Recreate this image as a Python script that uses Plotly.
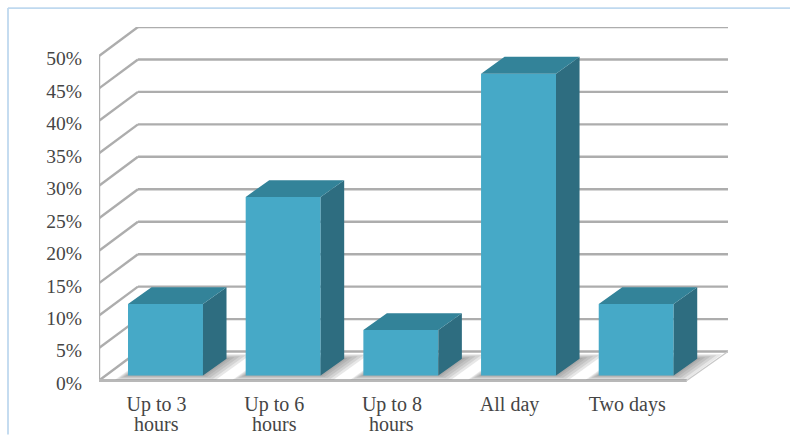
import plotly.graph_objects as go

# Chart content
categories = ["Up to 3", "Up to 6", "Up to 8", "All day", "Two days"]
second_lines = ["hours", "hours", "hours", "", ""]
values = [11, 27.5, 7, 46.5, 11]
y_ticks = [0, 5, 10, 15, 20, 25, 30, 35, 40, 45, 50]
y_tick_labels = ["0%", "5%", "10%", "15%", "20%", "25%", "30%", "35%", "40%", "45%", "50%"]
positions = [0, 1, 2, 3, 4]

# Box geometry, in axis units
BAR_WIDTH = 0.637
BAR_BASE = 0.77
BAR_DEPTH_X = 0.2
BAR_DEPTH_Y = 2.6
WALL_X = 0.331
WALL_Y = 4.46
X_LEFT = -0.565
X_RIGHT = 4.43
X_END = 4.78
Y_BOTTOM = -1
Y_TOP = 54.46

# Labels sit on the front edge of the floor, a little ahead of the boxes
LABEL_SHIFT_X = -0.076
LABEL_SHIFT_Y = -0.4

FRONT = "#46A9C7"
SIDE = "#2E6D80"
TOP = "#338399"
GRID = "#ADADAD"
TEXT = "#454545"
FONT = "Liberation Serif"


def grid_line(x0, y0, x1, y1, width=2.4, color=GRID):
    return dict(type="line", xref="x", yref="y", x0=x0, y0=y0, x1=x1, y1=y1,
                layer="below", line=dict(color=color, width=width))


def polygon_path(points):
    return "M " + " L ".join(f"{x},{y}" for x, y in points) + " Z"


shapes = []

# Back wall and left wall lines
for t in y_ticks:
    shapes.append(grid_line(X_LEFT, t, X_LEFT + WALL_X, t + WALL_Y))
    shapes.append(grid_line(X_LEFT + WALL_X, t + WALL_Y, X_END, t + WALL_Y))
shapes.append(grid_line(X_LEFT, 0, X_LEFT, y_ticks[-1]))

# Floor edges
shapes.append(grid_line(X_LEFT, 0, X_RIGHT, 0, width=3, color="#B8B8B8"))
shapes.append(grid_line(X_RIGHT, 0, X_END, WALL_Y, width=1.2, color="#C8C8C8"))

# Soft shadow around each bar foot
for x in positions:
    for spread in (0.11, 0.085, 0.06, 0.035, 0.015):
        left = x - BAR_WIDTH / 2 - spread
        right = x + BAR_WIDTH / 2 + spread
        low = max(BAR_BASE - spread * 6, 0.12)
        high = BAR_BASE + BAR_DEPTH_Y + spread * 6
        shift = (high - low) * BAR_DEPTH_X / BAR_DEPTH_Y
        shapes.append(dict(
            type="path", xref="x", yref="y", layer="below", opacity=0.17,
            fillcolor="#6E6E6E", line=dict(width=0),
            path=polygon_path([(left, low), (right, low), (right + shift, high), (left + shift, high)]),
        ))

# Window border
MARGIN_L, MARGIN_R, MARGIN_T, MARGIN_B = 99, 62, 27, 47.5
PLOT_W = 790 - MARGIN_L - MARGIN_R
PLOT_H = 435 - MARGIN_T - MARGIN_B
border_x = (8 - MARGIN_L) / PLOT_W
border_y = 1 + (MARGIN_T - 8) / PLOT_H
for x0, y0, x1, y1 in [(border_x, border_y, (790 - MARGIN_L) / PLOT_W, border_y),
                       (border_x, border_y, border_x, -MARGIN_B / PLOT_H)]:
    shapes.append(dict(type="line", xref="paper", yref="paper", x0=x0, y0=y0, x1=x1, y1=y1,
                       layer="below", line=dict(color="#BFD9EF", width=1.8)))

# Side and top faces of the boxes
side_x, side_y, top_x, top_y = [], [], [], []
for x, v in zip(positions, values):
    right = x + BAR_WIDTH / 2
    left = x - BAR_WIDTH / 2
    side_x += [right, right + BAR_DEPTH_X, right + BAR_DEPTH_X, right, right, None]
    side_y += [BAR_BASE, BAR_BASE + BAR_DEPTH_Y, v + BAR_BASE + BAR_DEPTH_Y, v + BAR_BASE, BAR_BASE, None]
    top_x += [left, right, right + BAR_DEPTH_X, left + BAR_DEPTH_X, left, None]
    top_y += [v + BAR_BASE, v + BAR_BASE, v + BAR_BASE + BAR_DEPTH_Y, v + BAR_BASE + BAR_DEPTH_Y, v + BAR_BASE, None]

fig = go.Figure()
fig.add_bar(x=positions, y=values, base=BAR_BASE, width=BAR_WIDTH,
            marker=dict(color=FRONT, line=dict(width=0)), showlegend=False, hoverinfo="skip")
fig.add_scatter(x=side_x, y=side_y, mode="lines", fill="toself", fillcolor=SIDE,
                line=dict(width=0, color=SIDE), showlegend=False, hoverinfo="skip")
fig.add_scatter(x=top_x, y=top_y, mode="lines", fill="toself", fillcolor=TOP,
                line=dict(width=0, color=TOP), showlegend=False, hoverinfo="skip")

label_positions = [x + LABEL_SHIFT_X for x in positions]

# Second row of the category labels
annotations = [
    dict(x=x, y=0, xref="x", yref="y", text=t, showarrow=False, yanchor="middle",
         yshift=-43, font=dict(family=FONT, size=20, color=TEXT))
    for x, t in zip(label_positions, second_lines) if t
]

fig.update_layout(
    width=790, height=435, autosize=False,
    margin=dict(l=MARGIN_L, r=MARGIN_R, t=MARGIN_T, b=MARGIN_B, pad=0),
    paper_bgcolor="white", plot_bgcolor="white",
    shapes=shapes, annotations=annotations, showlegend=False,
    font=dict(family=FONT, size=20, color=TEXT),
    xaxis=dict(range=[X_LEFT, X_END], tickmode="array", tickvals=label_positions, ticktext=categories,
               showgrid=False, zeroline=False, showline=False, ticks="", ticklabelstandoff=3,
               tickfont=dict(family=FONT, size=20, color=TEXT), fixedrange=True),
    yaxis=dict(range=[Y_BOTTOM, Y_TOP], tickmode="array",
               tickvals=[t + LABEL_SHIFT_Y for t in y_ticks], ticktext=y_tick_labels,
               showgrid=False, zeroline=False, showline=False, ticks="", ticklabelstandoff=16,
               tickfont=dict(family=FONT, size=19.5, color=TEXT), fixedrange=True),
)

fig.write_html("out.html", config=dict(displayModeBar=False))
